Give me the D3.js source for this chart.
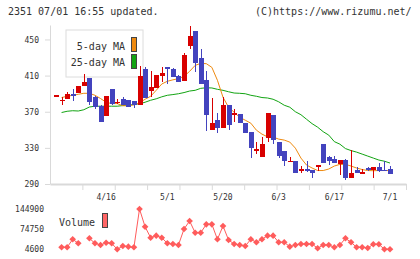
<!DOCTYPE html>
<html>
<head>
<meta charset="utf-8">
<script src="https://cdn.jsdelivr.net/npm/d3@7"></script>
<style>
body { margin: 0; background: #fff; }
svg { display: block; }
text { font-family: "DejaVu Sans Mono", monospace; fill: #333; }
</style>
</head>
<body>
<script>
var WIDTH = 420, HEIGHT = 259;

// daily prices, oldest first (last day = 7/1)
var openPrice = [388, 382, 384, 390, 391, 398, 407, 386, 376, 365, 395, 380, 384, 383, 382, 378, 417, 393, 396, 410,
    419, 417, 410, 404, 443, 459, 429, 405, 350, 361, 352, 377, 366, 368, 357, 348, 327, 320, 341, 366,
    337, 326, 314, 316, 304, 307, 305, 310, 334, 320, 318, 312, 317, 297, 305, 302, 308, 305, 309, 306, 307];
var highPrice = [388, 386, 392, 395, 399, 412, 407, 387, 377, 387, 395, 384, 386, 383, 382, 421, 419, 415, 411, 419,
    419, 418, 411, 435, 465, 459, 439, 415, 385, 369, 386, 377, 373, 368, 357, 348, 336, 342, 369, 366,
    337, 326, 320, 316, 310, 316, 305, 311, 334, 321, 321, 317, 318, 328, 309, 307, 309, 309, 313, 315, 310];
var lowPrice = [388, 377, 384, 382, 391, 398, 377, 373, 359, 365, 378, 379, 378, 375, 374, 378, 385, 386, 396, 403,
    401, 408, 403, 404, 439, 414, 401, 349, 350, 346, 352, 350, 359, 357, 346, 319, 323, 320, 337, 334,
    319, 310, 314, 302, 302, 303, 297, 304, 313, 311, 313, 300, 294, 297, 302, 301, 304, 297, 303, 305, 301];
var closePrice = [388, 383, 390, 387, 399, 403, 381, 375, 359, 387, 379, 381, 378, 375, 378, 410, 385, 397, 411, 413,
    417, 408, 403, 433, 454, 424, 401, 366, 358, 352, 377, 355, 369, 357, 346, 330, 329, 334, 369, 339,
    321, 315, 316, 302, 307, 304, 302, 311, 313, 315, 313, 317, 297, 302, 302, 303, 305, 309, 304, 305, 301];

var ma5 = [null, 385.7, 387.1, 388.2, 389.3, 390.4, 390.4, 388.2, 384.6, 380.5, 379.0, 379.0, 376.6, 376.6, 377.7, 379.9,
    383.8, 387.1, 393.7, 400.7, 403.7, 405.3, 406.6, 409.2, 414.7, 421.3, 423.5, 423.2, 419.1, 404.8, 386.0,
    375.0, 369.4, 363.9, 360.6, 357.3, 349.6, 345.2, 342.2, 341.9, 339.7, 338.6, 336.4, 329.7, 318.7, 311.0,
    307.7, 304.9, 304.9, 306.6, 309.9, 311.7, 311.7, 309.9, 307.7, 306.0, 304.9, 304.7, 304.9, 304.9, 304.9];
var ma25 = [null, 369.1, 370.5, 371.1, 370.8, 372.2, 375.2, 376.1, 376.1, 376.1, 376.1, 376.1, 376.8, 377.4, 377.9, 378.8,
    380.5, 382.7, 384.3, 386.5, 388.2, 389.0, 389.9, 391.2, 392.9, 393.7, 395.9, 396.5, 396.3, 394.8, 393.7,
    392.1, 390.7, 390.4, 389.9, 388.2, 387.1, 385.7, 385.2, 383.8, 381.0, 377.2, 375.0, 370.0, 366.7, 361.7,
    356.8, 352.9, 347.9, 344.1, 336.9, 334.1, 329.2, 327.0, 325.3, 323.1, 320.9, 318.7, 316.5, 315.2, 313.2];

var volume = [null, 11600, 11600, 39400, 25500, null, 42900, 25500, 19600, 27600, 25500, 4600, 16100, 13700, 11600,
    144900, 83300, 45000, 52000, 45000, 25500, 23000, 19600, 75300, 103100, 62400, 62400, 91600, 91600, 39400,
    85700, 37000, 23000, 19600, 16100, 39400, 29000, 39400, 52000, 52000, 29000, 29000, 13700, 19600, 23000,
    23000, 23000, 8100, 19600, 19600, 11600, 19600, 42900, 29000, 11600, 11600, 9100, 22000, 22000, 4600, 4600];

var dateLabels = ["4/16", "5/1", "5/20", "6/3", "6/17", "7/1"];
var dateLabelDay = [9, 20, 30, 40, 50, 60];
var priceTicks = [450, 410, 370, 330, 290];
var volumeTicks = [144900, 74750, 4600];

var UP = "#d80000", DOWN = "#4343be";
var ORANGE = "#ee8a10", GREEN = "#12a412", VOL = "#ff5c5c";

var svg = d3.select("body").append("svg")
    .attr("width", WIDTH)
    .attr("height", HEIGHT);

var x = d3.scaleLinear().domain([0, closePrice.length - 1]).range([56, 390]);
var y = d3.scaleLinear().domain([290, 466]).range([184, 25]);
var yVol = d3.scaleLinear().domain([4600, 144900]).range([249.3, 209]);
var grid = d3.scaleLinear().domain([0, 11]).range([50, 406]);

// header
svg.append("text").attr("x", 8).attr("y", 15).style("font-size", "10px")
    .text("2351 07/01 16:55 updated.");
svg.append("text").attr("x", 255).attr("y", 15).style("font-size", "10px")
    .text("(C)https://www.rizumu.net/");

// axes
var yAxis = svg.append("g")
    .attr("transform", "translate(50,0)")
    .call(d3.axisLeft(y).tickValues(priceTicks).tickSize(5).tickSizeOuter(0).tickPadding(6));
yAxis.selectAll("line, path").attr("stroke", "#d9d9d9");
yAxis.selectAll("text").style("font-size", "8px").attr("fill", "#333");

var xAxis = svg.append("g")
    .attr("transform", "translate(0,184)")
    .call(d3.axisBottom(grid).tickValues(d3.range(1, 12)).tickSize(6).tickSizeOuter(0).tickFormat(""));
xAxis.selectAll("line").attr("stroke", "#d9d9d9");
xAxis.select("path").attr("stroke", "#d9d9d9").attr("stroke-width", 2);

svg.append("g").selectAll("text")
    .data(dateLabels)
    .enter()
    .append("text")
    .attr("x", function (d, i) { return x(dateLabelDay[i]); })
    .attr("y", 200)
    .attr("text-anchor", "middle")
    .style("font-size", "8px")
    .text(function (d) { return d; });

// legend (drawn under the candles)
svg.append("rect").attr("x", 66).attr("y", 30).attr("width", 77).attr("height", 47)
    .attr("fill", "#fff").attr("stroke", "#dcdcdc");
svg.append("text").attr("x", 125).attr("y", 50).attr("text-anchor", "end")
    .style("font-size", "10px").text("5-day MA");
svg.append("text").attr("x", 125).attr("y", 65.5).attr("text-anchor", "end")
    .style("font-size", "10px").text("25-day MA");
svg.append("rect").attr("x", 131.5).attr("y", 37.5).attr("width", 5).attr("height", 14)
    .attr("fill", ORANGE).attr("stroke", "#444");
svg.append("rect").attr("x", 131.5).attr("y", 54.5).attr("width", 5).attr("height", 14)
    .attr("fill", GREEN).attr("stroke", "#444");

// moving averages
function maLine(values) {
    return d3.line()
        .defined(function (d) { return d != null; })
        .x(function (d, i) { return x(i); })
        .y(function (d) { return y(d); })(values);
}
svg.append("path").attr("d", maLine(ma25)).attr("fill", "none").attr("stroke", GREEN).attr("stroke-width", 1);
svg.append("path").attr("d", maLine(ma5)).attr("fill", "none").attr("stroke", ORANGE).attr("stroke-width", 1);

// candles
var candles = svg.append("g").attr("shape-rendering", "crispEdges")
    .selectAll("g")
    .data(closePrice)
    .enter()
    .append("g");

function candleColor(d, i) { return closePrice[i] >= openPrice[i] ? UP : DOWN; }

candles.append("line")
    .attr("x1", function (d, i) { return Math.round(x(i)) + 0.5; })
    .attr("x2", function (d, i) { return Math.round(x(i)) + 0.5; })
    .attr("y1", function (d, i) { return y(highPrice[i]); })
    .attr("y2", function (d, i) { return y(lowPrice[i]); })
    .attr("stroke", candleColor);

candles.append("rect")
    .attr("x", function (d, i) { return Math.round(x(i)) - 2; })
    .attr("width", 5)
    .attr("y", function (d, i) { return y(Math.max(openPrice[i], closePrice[i])); })
    .attr("height", function (d, i) {
        return Math.max(1.5, Math.abs(y(openPrice[i]) - y(closePrice[i])));
    })
    .attr("fill", candleColor);

// volume
var volLine = d3.line()
    .defined(function (d) { return d != null; })
    .x(function (d, i) { return x(i); })
    .y(function (d) { return yVol(d); });
svg.append("path").attr("d", volLine(volume)).attr("fill", "none").attr("stroke", VOL).attr("stroke-width", 1);

var marker = d3.symbol().type(d3.symbolSquare).size(22);
svg.append("g").selectAll("path")
    .data(volume.map(function (v, i) { return {v: v, i: i}; }).filter(function (d) { return d.v != null; }))
    .enter()
    .append("path")
    .attr("d", marker)
    .attr("transform", function (d) { return "translate(" + x(d.i) + "," + yVol(d.v) + ") rotate(45)"; })
    .attr("fill", VOL);

svg.append("g").selectAll("text")
    .data(volumeTicks)
    .enter()
    .append("text")
    .attr("x", 44)
    .attr("y", function (d) { return yVol(d); })
    .attr("dy", "0.35em")
    .attr("text-anchor", "end")
    .style("font-size", "8px")
    .text(function (d) { return d; });

svg.append("text").attr("x", 59).attr("y", 226).style("font-size", "10px").text("Volume");
svg.append("rect").attr("x", 102.5).attr("y", 213.5).attr("width", 5).attr("height", 14)
    .attr("fill", "#ff6666").attr("stroke", "#444");
</script>
</body>
</html>
